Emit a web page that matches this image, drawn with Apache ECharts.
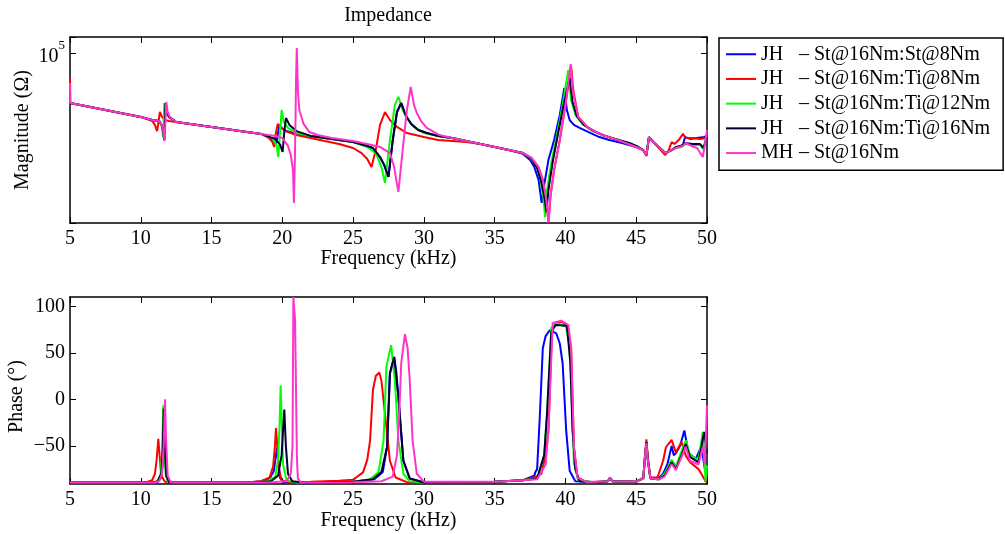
<!DOCTYPE html>
<html>
<head>
<meta charset="utf-8">
<script src="https://cdn.jsdelivr.net/npm/echarts@6/dist/echarts.min.js"></script>
<style>html,body{margin:0;padding:0;background:#fff}#c{width:1005px;height:534px}</style>
</head>
<body>
<div id="c"></div>
<script>
// ---- Data (frequency in kHz, magnitude in Ohm, phase in degrees) ----
const seriesNames = [
  'JH – St@16Nm:St@8Nm',
  'JH – St@16Nm:Ti@8Nm',
  'JH – St@16Nm:Ti@12Nm',
  'JH – St@16Nm:Ti@16Nm',
  'MH – St@16Nm'
];
const seriesColors = ['#0000ff', '#ff0000', '#00ff00', '#000033', '#ff33cc'];
const xTicks = [5, 10, 15, 20, 25, 30, 35, 40, 45, 50];
const phaseTicks = [-50, 0, 50, 100];

const magBlue = [[5.0,56200],[7.5,51900],[10,47900],[10.8,46200],[11.3,45700],[11.5,43200],[11.6,39800],[11.66,36700],[11.74,55600],[11.85,50100],[12.0,47900],[12.5,45200],[15,42700],[17.5,40300],[18.5,39400],[19.2,37200],[19.5,34700],[19.62,36700],[19.78,43700],[19.95,42200],[20.3,40700],[21,39400],[22,38500],[23,37600],[24,36700],[25,35900],[26,34300],[26.4,33500],[26.9,30200],[27.2,27500],[27.5,24000],[27.8,36700],[28.1,50700],[28.4,56200],[28.7,49000],[29.1,44200],[29.6,41200],[30.2,39800],[31,38500],[32,37600],[33,36300],[34,35100],[35,33900],[36,32700],[37,31300],[37.5,29200],[37.8,26900],[38.1,23200],[38.32,17800],[38.5,21900],[38.8,29200],[39.2,36700],[39.6,49000],[39.92,66800],[40.1,51900],[40.3,46200],[40.6,43700],[41.0,42200],[41.6,40300],[42.4,38000],[43.1,36700],[44,35500],[45,33900],[45.5,32700],[45.72,30900],[45.9,38000],[46.2,35900],[46.6,33900],[47.05,31600],[47.5,32700],[47.9,33900],[48.3,34700],[48.45,38000],[48.8,37200],[49.3,37600],[49.8,38000],[50,38500]];
const magRed = [[5.0,75000],[5.02,56200],[7.5,51900],[10,47900],[10.8,45700],[11.0,43700],[11.15,40700],[11.22,43700],[11.35,50700],[11.5,47900],[11.7,46200],[12.0,45700],[12.5,45200],[15,42700],[17.5,40300],[18.5,39400],[19.0,38000],[19.3,35900],[19.42,33900],[19.52,38900],[19.67,44200],[19.85,42700],[20.2,40700],[21,38900],[22,37600],[23,36300],[24,35100],[25,33500],[25.6,31600],[26.0,29500],[26.3,26900],[26.6,32700],[26.9,43700],[27.25,50700],[27.6,46200],[28.1,42700],[28.8,39800],[30,38000],[31,36700],[32,36300],[33,35900],[34,35100],[35,33900],[36,32700],[37,31600],[37.6,29900],[38.1,26900],[38.4,23200],[38.65,18400],[38.8,14300],[38.95,19500],[39.2,26000],[39.6,36700],[40.0,55000],[40.4,86100],[40.55,65300],[40.9,47900],[41.6,42200],[42.6,38900],[43.5,37200],[45,33900],[45.5,32700],[45.72,30500],[45.9,38000],[46.2,35900],[46.6,33500],[47.05,30900],[47.3,32700],[47.5,35900],[47.7,35100],[48.0,36700],[48.3,39400],[48.5,37600],[49.0,37600],[49.5,37200],[50,37600]];
const magGreen = [[5.0,56200],[7.5,51900],[10,47900],[10.8,46200],[11.3,45700],[11.5,42700],[11.58,37600],[11.66,56200],[11.75,51300],[11.9,48400],[12.5,45200],[15,42700],[17.5,40300],[18.5,39400],[19.3,37600],[19.6,34300],[19.72,30200],[19.85,41200],[19.95,51900],[20.1,45200],[20.4,42200],[21,39800],[22,38500],[23,37600],[24,36700],[25,35900],[26,33900],[26.6,31600],[27.0,26900],[27.25,22400],[27.6,36700],[27.95,55000],[28.2,60300],[28.5,51900],[28.8,47300],[29.3,42700],[30,39800],[31,38500],[32,37600],[33,36300],[34,35100],[35,33900],[36,32700],[37,31600],[37.5,29900],[37.9,27500],[38.2,24000],[38.45,18800],[38.56,15100],[38.7,20700],[39.0,28200],[39.4,38900],[39.8,55000],[40.2,82200],[40.4,58200],[40.7,49000],[41.2,44200],[41.8,41200],[42.6,38900],[43.5,37200],[44.5,35500],[45,34300],[45.5,32700],[45.72,30900],[45.9,38000],[46.2,35900],[46.6,33900],[47.05,31600],[47.5,32700],[47.8,33500],[48.2,33900],[48.45,35100],[49.0,34700],[49.5,34700],[49.75,33100],[49.95,38000],[50,37600]];
const magBlack = [[5.0,56200],[7.5,51900],[10,47900],[10.8,46200],[11.3,45700],[11.5,43200],[11.6,39800],[11.66,36700],[11.75,56200],[11.85,50700],[12.0,47900],[12.5,45200],[15,42700],[17.5,40300],[18.5,39400],[19.5,37200],[19.85,34700],[20.02,32000],[20.15,41200],[20.26,47300],[20.5,43700],[21,40700],[22,38500],[23,37600],[24,36700],[25,35900],[26,34300],[26.4,33500],[26.9,30200],[27.2,27500],[27.5,24000],[27.8,36700],[28.1,50700],[28.4,56200],[28.7,49000],[29.1,44200],[29.6,41200],[30.2,39800],[31,38500],[32,37600],[33,36300],[34,35100],[35,33900],[36,32700],[37,31600],[37.6,29500],[38.0,26600],[38.3,22600],[38.55,18400],[38.65,16000],[38.8,20700],[39.1,28500],[39.5,40300],[39.9,56200],[40.3,75000],[40.5,56900],[40.8,48400],[41.3,43700],[42,40700],[42.8,38500],[43.5,37200],[44.5,35500],[45,34300],[45.5,32700],[45.72,30900],[45.9,38000],[46.2,35900],[46.6,33900],[47.05,31600],[47.5,32700],[47.8,33900],[48.2,34300],[48.45,35500],[49.0,35100],[49.5,35100],[49.75,33500],[49.9,36300],[50,38000]];
const magMagenta = [[5.0,70800],[5.02,56200],[7.5,51900],[10,47900],[10.8,46200],[11.3,45700],[11.55,42700],[11.68,36300],[11.8,56900],[11.9,50700],[12.05,47900],[12.5,45200],[15,42700],[17.5,40300],[18.5,39400],[19.5,38500],[20.0,37600],[20.4,34300],[20.6,30900],[20.75,26000],[20.82,17800],[20.9,32700],[20.97,73300],[21.02,105900],[21.1,65300],[21.2,51900],[21.5,44200],[21.9,40300],[22.5,38900],[23.5,37600],[25,36300],[26,35100],[26.9,33900],[27.6,31600],[27.9,26900],[28.05,23200],[28.2,20200],[28.5,32700],[28.8,51900],[29.07,67600],[29.3,55000],[29.5,50100],[29.8,45700],[30.2,42200],[31.1,38900],[32,37600],[33,36300],[34,35100],[35,33900],[36,32700],[37,31600],[37.6,29900],[38.1,26900],[38.4,23200],[38.65,18400],[38.8,14200],[38.95,19500],[39.2,26000],[39.6,36700],[40.0,55000],[40.37,88100],[40.5,65300],[40.9,47900],[41.6,42200],[42.6,38900],[43.5,37200],[45,33900],[45.5,32700],[45.72,30900],[45.9,38000],[46.2,35900],[46.6,33900],[47.05,31600],[47.5,32700],[47.8,33500],[48.3,34300],[48.5,35500],[48.9,34300],[49.3,33500],[49.7,30200],[49.85,34700],[50,41200]];

const phBlue = [[5,-89.5],[10.5,-89.5],[11.2,-88.5],[11.45,-84],[11.55,-70],[11.63,-12],[11.7,-40],[11.78,-80],[11.9,-88],[12.5,-89.5],[17.5,-89.5],[18.5,-88],[19.1,-85],[19.4,-77],[19.55,-60],[19.62,-52],[19.7,-65],[19.85,-85],[20.1,-89],[25,-88.5],[26.5,-86],[27.1,-78],[27.4,-51],[27.6,28],[27.9,45],[28.05,30],[28.2,2],[28.55,-66],[29.0,-85],[30,-89],[35,-88.5],[37,-87],[37.8,-82],[37.88,-78],[38.0,-75],[38.2,-15],[38.4,55],[38.6,68],[38.9,74.5],[39.35,71],[39.6,60],[39.8,39],[40.05,-33],[40.3,-77],[40.7,-88],[42.5,-89],[43.0,-88],[43.15,-85],[43.3,-88],[45.0,-88.5],[45.5,-85],[45.63,-60],[45.72,-46],[45.82,-65],[46.0,-85],[46.5,-86],[46.9,-80],[47.2,-70],[47.5,-50],[47.65,-60],[47.8,-58],[48.1,-50],[48.4,-33.5],[48.7,-58],[49.2,-64],[49.6,-51],[49.85,-75],[50,-84]];
const phRed = [[5,-89.5],[10.3,-89.5],[10.8,-87],[11.0,-80],[11.12,-65],[11.24,-42.5],[11.33,-60],[11.45,-82],[11.7,-88.5],[12.5,-89.5],[17.5,-89.5],[18.5,-88],[19.1,-84],[19.35,-72],[19.48,-50],[19.55,-31],[19.62,-45],[19.75,-75],[19.95,-87],[20.5,-89],[22,-88.5],[24,-87.5],[25,-86.5],[25.7,-78.5],[26.0,-65],[26.2,-44],[26.4,10],[26.6,25],[26.85,28.8],[27.0,20],[27.25,-15],[27.6,-66],[28.0,-84],[28.8,-89],[30,-89.5],[35,-88.5],[37,-87],[37.8,-84],[38.3,-80],[38.6,-60],[38.8,-33],[39.05,75],[39.3,82],[39.7,83.5],[40.1,80],[40.4,56],[40.6,-51],[40.85,-84],[41.5,-89],[43.0,-88],[43.15,-84],[43.3,-88],[45.0,-88.5],[45.5,-84],[45.63,-58],[45.72,-43],[45.82,-62],[46.0,-84],[46.5,-84],[46.9,-66],[47.1,-51.5],[47.5,-43.5],[47.8,-57],[48.2,-46],[48.5,-60.5],[48.8,-67.7],[49.4,-75],[49.9,-88],[50,-89]];
const phGreen = [[5,-89.5],[10.8,-89.5],[11.2,-88],[11.4,-80],[11.5,-60],[11.59,-6.5],[11.65,-40],[11.75,-80],[11.9,-88.5],[12.5,-89.5],[18,-89.5],[19.0,-88],[19.5,-83],[19.7,-65],[19.8,-30],[19.88,15],[19.95,-20],[20.05,-70],[20.3,-87],[21,-89.5],[25,-88.5],[26.2,-86],[26.8,-78],[27.15,-44],[27.35,35],[27.68,58.3],[27.95,20],[28.2,-44],[28.55,-80],[29.0,-88],[30,-89.5],[35,-88.5],[37,-87],[38,-85],[38.5,-60],[38.7,-15],[39.0,77],[39.35,82],[40.05,78],[40.25,60],[40.4,20],[40.6,-69],[40.9,-87],[42,-89],[43.0,-88],[43.15,-84],[43.3,-88],[45,-88.5],[45.5,-85],[45.63,-60],[45.72,-46],[45.82,-65],[46.0,-85],[46.6,-86],[47.0,-80],[47.5,-65],[47.8,-72],[48.1,-60],[48.5,-44],[48.8,-60],[49.4,-65],[49.7,-35],[49.9,-88],[50,-71]];
const phBlack = [[5,-89.5],[10.8,-89.5],[11.2,-88],[11.45,-80],[11.55,-55],[11.62,-10],[11.68,-45],[11.8,-82],[12,-89],[12.5,-89.5],[18,-89.5],[19.2,-88],[19.7,-82],[19.95,-60],[20.14,-11],[20.25,-50],[20.4,-80],[20.7,-88],[21.5,-89.5],[25,-88.5],[26.4,-86],[27.0,-78],[27.4,-51],[27.6,28],[27.9,45.7],[28.2,2.5],[28.55,-66],[29.0,-85],[30,-89.5],[35,-88.5],[37,-87],[38,-85],[38.5,-60],[38.7,-15],[39.0,72],[39.3,80],[40.1,79],[40.35,40],[40.5,-33],[40.7,-75],[41,-88],[42,-89],[43.0,-88],[43.15,-84],[43.3,-88],[45,-88.5],[45.5,-85],[45.63,-60],[45.72,-46],[45.82,-65],[46.0,-85],[46.6,-86],[47.0,-82],[47.5,-67.7],[47.8,-75],[48.2,-60],[48.5,-48],[48.8,-62],[49.4,-67.7],[49.8,-35],[50,-58]];
const phMagenta = [[5,-89.5],[10.9,-89.5],[11.3,-88],[11.5,-80],[11.62,-50],[11.71,0],[11.78,-40],[11.9,-82],[12.1,-89],[12.5,-89.5],[19,-89.5],[20.3,-88],[20.6,-80],[20.72,-50],[20.78,110],[20.85,112],[20.9,85],[21.0,85],[21.03,-60],[21.05,-71],[21.1,-85],[21.3,-89.5],[25,-89],[27,-88],[27.8,-83],[28.1,-60],[28.26,-15],[28.4,39],[28.66,70],[28.85,55],[29.0,20.5],[29.2,-44],[29.5,-80],[30,-88.5],[35,-88.5],[37,-87],[38,-86],[38.6,-70],[38.8,-33],[39.1,82],[39.7,84.5],[40.2,80],[40.4,56.5],[40.6,-51.5],[40.85,-84],[41.5,-89],[43,-88],[43.15,-84],[43.3,-88],[45,-88.5],[45.5,-85],[45.63,-60],[45.72,-47],[45.82,-65],[46.0,-85],[46.6,-86],[47,-83],[47.5,-69.5],[47.8,-76],[48.2,-62],[48.5,-50.7],[48.8,-66],[49.4,-70],[49.7,-51],[49.85,-70],[50,-6.5]];

const magData = [magBlue, magRed, magGreen, magBlack, magMagenta];
const phData = [phBlue, phRed, phGreen, phBlack, phMagenta];

// ---- Chart ----
const FONT = 'Liberation Serif';
const chart = echarts.init(document.getElementById('c'), null, {renderer: 'canvas'});
const axisLineStyle = {show: true, onZero: false, lineStyle: {color: '#000', width: 1.5}};
const tickStyle = {show: true, inside: true, length: 6, lineStyle: {color: '#000', width: 1}};
const labelBase = {color: '#000', fontFamily: FONT, fontSize: 20};

function xAx(gridIndex, pos, showLabel) {
  return {
    type: 'value', gridIndex: gridIndex, position: pos, min: 5, max: 50, interval: 5,
    axisLine: axisLineStyle, axisTick: tickStyle, splitLine: {show: false},
    axisLabel: Object.assign({show: showLabel, margin: 6}, labelBase),
    name: showLabel ? 'Frequency (kHz)' : '', nameLocation: 'middle',
    nameGap: gridIndex === 0 ? 26 : 27, nameMoveOverlap: false,
    nameTextStyle: {color: '#000', fontFamily: FONT, fontSize: 20}
  };
}
const magMin = 14130, magMax = 120200;
function magAx(pos, showLabel) {
  return {
    type: 'log', logBase: 10, gridIndex: 0, position: pos, min: magMin, max: magMax,
    axisLine: axisLineStyle, axisTick: tickStyle, splitLine: {show: false}, minorTick: {show: false},
    axisLabel: {
      show: showLabel, margin: 5, color: '#000', fontFamily: FONT,
      showMinLabel: true, showMaxLabel: true,
      formatter: function (v) { return (v > 90000 && v < 110000) ? '{a|10}{b|5}' : ''; },
      rich: {
        a: {fontFamily: FONT, fontSize: 20, color: '#000', padding: [7, 0, 0, 0]},
        b: {fontFamily: FONT, fontSize: 13, color: '#000', verticalAlign: 'top'}
      }
    },
    name: showLabel ? 'Magnitude (Ω)' : '', nameLocation: 'middle', nameRotate: 90, nameGap: 37,
    nameMoveOverlap: false,
    nameTextStyle: {color: '#000', fontFamily: FONT, fontSize: 20}
  };
}
function phAx(pos, showLabel) {
  return {
    type: 'value', gridIndex: 1, position: pos, min: -91, max: 110,
    axisLine: axisLineStyle,
    axisTick: Object.assign({customValues: phaseTicks}, tickStyle),
    splitLine: {show: false},
    axisLabel: Object.assign({show: showLabel, margin: 5, customValues: phaseTicks,
      formatter: function (v) { return v < 0 ? '\u2212' + Math.abs(v) : String(v); }}, labelBase),
    name: showLabel ? 'Phase (°)' : '', nameLocation: 'middle', nameRotate: 90, nameGap: 43,
    nameMoveOverlap: false,
    nameTextStyle: {color: '#000', fontFamily: FONT, fontSize: 20, padding: [0, 12, 0, 0]}
  };
}

const series = [];
for (let i = 0; i < seriesNames.length; i++) {
  series.push({
    type: 'line', name: seriesNames[i], xAxisIndex: 0, yAxisIndex: 0, data: magData[i],
    symbol: 'none', showSymbol: false, clip: true, animation: false,
    lineStyle: {color: seriesColors[i], width: 2}, itemStyle: {color: seriesColors[i]}, z: 2 + i
  });
  series.push({
    type: 'line', name: seriesNames[i], xAxisIndex: 2, yAxisIndex: 2, data: phData[i],
    symbol: 'none', showSymbol: false, clip: true, animation: false,
    lineStyle: {color: seriesColors[i], width: 2}, itemStyle: {color: seriesColors[i]}, z: 2 + i
  });
}

chart.setOption({
  animation: false,
  backgroundColor: '#fff',
  grid: [
    {left: 70, top: 37, width: 637, height: 186, outerBoundsMode: 'none', containLabel: false},
    {left: 70, top: 297, width: 637, height: 187, outerBoundsMode: 'none', containLabel: false}
  ],
  xAxis: [xAx(0, 'bottom', true), xAx(0, 'top', false), xAx(1, 'bottom', true), xAx(1, 'top', false)],
  yAxis: [magAx('left', true), magAx('right', false), phAx('left', true), phAx('right', false)],
  legend: {
    data: seriesNames, orient: 'vertical', left: 719, top: 38,
    padding: [6, 13, 7, 7], itemGap: 4.2, itemWidth: 30, itemHeight: 2, icon: 'rect',
    borderColor: '#000', borderWidth: 1.5, backgroundColor: '#fff', borderRadius: 0,
    selectedMode: false,
    textStyle: {color: '#000', fontFamily: FONT, fontSize: 20, lineHeight: 20.5,
      rich: {
        p: {width: 38, color: '#000', fontFamily: FONT, fontSize: 20, lineHeight: 20.5},
        q: {color: '#000', fontFamily: FONT, fontSize: 20, lineHeight: 20.5}
      }},
    formatter: function (n) { const k = n.split(' – '); return '{p|' + k[0] + '}{q|– ' + k[1] + '}'; }
  },
  graphic: [{
    type: 'text', x: 388, y: 16,
    style: {text: 'Impedance', fill: '#000', font: '20px "Liberation Serif"', textAlign: 'center', textVerticalAlign: 'middle'}
  }],
  series: series
});
</script>
</body>
</html>
